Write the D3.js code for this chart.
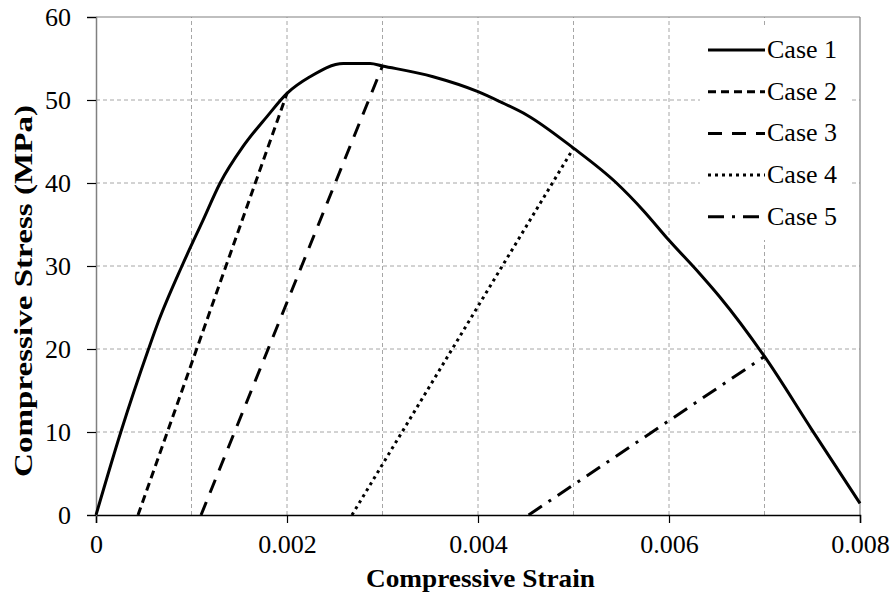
<!DOCTYPE html>
<meta charset="utf-8">
<body>
<script src="https://cdn.jsdelivr.net/npm/d3@7"></script>
<script>

// envelope curve (Case 1) and unloading lines
var case1Strain = [0, 0.00026, 0.00055, 0.00064, 0.0009, 0.00112, 0.0013, 0.00154, 0.00179, 0.002, 0.00224, 0.00259, 0.00287, 0.003, 0.00353, 0.004, 0.00423, 0.00451, 0.005, 0.00545, 0.00573, 0.006, 0.00632, 0.00653, 0.007, 0.0075, 0.008];
var case1Stress = [0, 10, 20, 22.9, 30, 35.5, 40, 44.4, 48, 50.8, 52.8, 54.4, 54.4, 54.1, 52.8, 51, 49.8, 48.2, 44.2, 40, 36.7, 33.1, 29.1, 26.3, 19.1, 10.2, 1.4];
var case2Strain = [0.00044, 0.002];
var case2Stress = [0, 50.8];
var case3Strain = [0.0011, 0.003];
var case3Stress = [0, 54.1];
var case4Strain = [0.00268, 0.005];
var case4Stress = [0, 44.2];
var case5Strain = [0.00453, 0.007];
var case5Stress = [0, 19.1];

var seriesNames = ["Case 1", "Case 2", "Case 3", "Case 4", "Case 5"];
var xTicks = [0, 0.002, 0.004, 0.006, 0.008];
var xGrid = [0.001, 0.002, 0.003, 0.004, 0.005, 0.006, 0.007];
var yTicks = [0, 10, 20, 30, 40, 50, 60];

var dashes = ["none", "8,5", "14,10", "3,4", "16,8,3,8"];
var serif = "Liberation Serif";

var series = [
  { name: seriesNames[0], x: case1Strain, y: case1Stress },
  { name: seriesNames[1], x: case2Strain, y: case2Stress },
  { name: seriesNames[2], x: case3Strain, y: case3Stress },
  { name: seriesNames[3], x: case4Strain, y: case4Stress },
  { name: seriesNames[4], x: case5Strain, y: case5Stress }
];

var width = 893, height = 602;
var margin = { left: 96, right: 33, top: 17, bottom: 87 };

d3.select("body").style("margin", "0px");

var svg = d3.select("body").append("svg")
    .attr("width", width)
    .attr("height", height)
    .attr("font-family", serif);

var x = d3.scaleLinear().domain([0, 0.008]).range([margin.left, width - margin.right]);
var y = d3.scaleLinear().domain([0, 60]).range([height - margin.bottom, margin.top]);

// gridlines
var grid = svg.append("g")
    .attr("stroke", "#a6a6a6")
    .attr("stroke-width", 1)
    .attr("stroke-dasharray", "4,3");
grid.selectAll(".vg").data(xGrid).enter().append("line")
    .attr("x1", function(d) { return x(d); })
    .attr("x2", function(d) { return x(d); })
    .attr("y1", y(0)).attr("y2", y(60));
grid.selectAll(".hg").data(yTicks.slice(1, -1)).enter().append("line")
    .attr("x1", x(0)).attr("x2", x(0.008))
    .attr("y1", function(d) { return y(d); })
    .attr("y2", function(d) { return y(d); });

// frame: top and right
svg.append("line").attr("x1", x(0)).attr("x2", x(0.008)).attr("y1", y(60)).attr("y2", y(60))
    .attr("stroke", "#808080").attr("stroke-width", 1.2);
svg.append("line").attr("x1", x(0.008)).attr("x2", x(0.008)).attr("y1", y(60)).attr("y2", y(0))
    .attr("stroke", "#808080").attr("stroke-width", 1.2);

// axes
var xAxis = svg.append("g")
    .attr("transform", "translate(0," + y(0) + ")")
    .call(d3.axisBottom(x).tickValues(xTicks).tickSize(8).tickPadding(12)
      .tickFormat(function(d) { return d === 0 ? "0" : d3.format(".3f")(d); }));
xAxis.attr("font-family", serif).attr("font-size", 26);
xAxis.select(".domain").attr("stroke", "#000").attr("stroke-width", 1.5);
xAxis.selectAll(".tick line").attr("stroke", "#000").attr("stroke-width", 1.2);
xAxis.selectAll("text").attr("font-family", serif).attr("fill", "#000");

var yAxis = svg.append("g")
    .attr("transform", "translate(" + x(0) + ",0)")
    .call(d3.axisLeft(y).tickValues(yTicks).tickSize(9).tickPadding(16));
yAxis.attr("font-family", serif).attr("font-size", 26);
yAxis.select(".domain").attr("stroke", "#808080").attr("stroke-width", 1.5);
yAxis.selectAll(".tick line").attr("stroke", "#000").attr("stroke-width", 1.2);
yAxis.selectAll("text").attr("font-family", serif).attr("fill", "#000");

// legend background
var legend = svg.append("g");
legend.append("rect")
    .attr("x", 700).attr("y", 25).attr("width", 150).attr("height", 215)
    .attr("fill", "#fff");

// series
var line = d3.line()
    .x(function(d) { return x(d[0]); })
    .y(function(d) { return y(d[1]); })
    .curve(d3.curveMonotoneX);

svg.selectAll(".series").data(series).enter().append("path")
    .attr("class", "series")
    .attr("d", function(s) { return line(d3.zip(s.x, s.y)); })
    .attr("fill", "none")
    .attr("stroke", "#000")
    .attr("stroke-width", 3)
    .attr("stroke-linejoin", "round")
    .attr("stroke-dasharray", function(s, i) { return dashes[i]; });

// legend entries
var item = legend.selectAll(".item").data(series).enter().append("g")
    .attr("transform", function(d, i) { return "translate(0," + (58 + i * 41.7) + ")"; });
item.append("line")
    .attr("x1", 708).attr("x2", 765).attr("y1", -8).attr("y2", -8)
    .attr("stroke", "#000").attr("stroke-width", 3)
    .attr("stroke-dasharray", function(d, i) { return dashes[i]; });
item.append("text")
    .attr("x", 767)
    .attr("font-family", serif)
    .attr("font-size", 26)
    .text(function(d) { return d.name; });

// axis titles
svg.append("text")
    .attr("x", 366).attr("y", 587)
    .attr("textLength", 229)
    .attr("lengthAdjust", "spacingAndGlyphs")
    .attr("font-family", serif)
    .attr("font-size", 25)
    .attr("font-weight", "bold")
    .text("Compressive Strain");

svg.append("text")
    .attr("transform", "translate(32,477) rotate(-90)")
    .attr("textLength", 372)
    .attr("lengthAdjust", "spacingAndGlyphs")
    .attr("font-family", serif)
    .attr("font-size", 26)
    .attr("font-weight", "bold")
    .text("Compressive Stress (MPa)");

</script>
</body>
